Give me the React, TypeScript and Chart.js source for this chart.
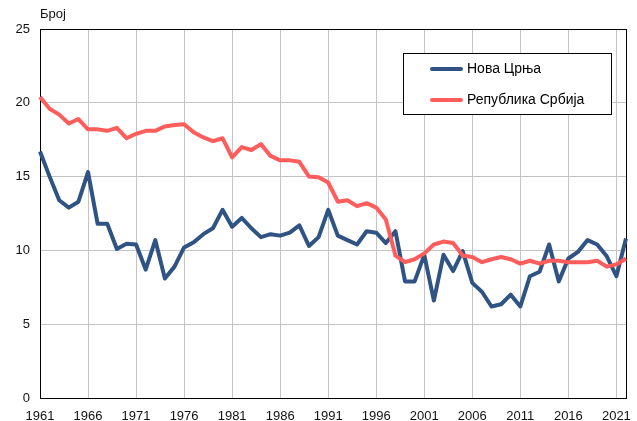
import React, { useEffect, useRef } from 'react';
import { Chart, registerables } from 'chart.js';

Chart.register(...registerables);

const years = [
  '1961','1962','1963','1964','1965','1966','1967','1968','1969','1970',
  '1971','1972','1973','1974','1975','1976','1977','1978','1979','1980',
  '1981','1982','1983','1984','1985','1986','1987','1988','1989','1990',
  '1991','1992','1993','1994','1995','1996','1997','1998','1999','2000',
  '2001','2002','2003','2004','2005','2006','2007','2008','2009','2010',
  '2011','2012','2013','2014','2015','2016','2017','2018','2019','2020',
  '2021','2022',
];

const novaCrnja = [
  16.7, 15.0, 13.4, 12.9, 13.3, 15.3, 11.8, 11.8, 10.1, 10.45,
  10.4, 8.7, 10.7, 8.1, 8.9, 10.2, 10.55, 11.1, 11.5, 12.75,
  11.6, 12.2, 11.5, 10.9, 11.1, 11.0, 11.2, 11.7, 10.3, 10.9,
  12.75, 11.0, 10.7, 10.4, 11.3, 11.2, 10.5, 11.3, 7.9, 7.9,
  9.7, 6.6, 9.7, 8.6, 9.95, 7.8, 7.2, 6.2, 6.35, 7.0,
  6.2, 8.25, 8.55, 10.4, 7.9, 9.45, 9.9, 10.7, 10.4, 9.6,
  8.25, 10.8,
];

const srbija = [
  20.4, 19.6, 19.2, 18.6, 18.9, 18.2, 18.2, 18.1, 18.3, 17.6,
  17.9, 18.1, 18.1, 18.4, 18.5, 18.55, 18.0, 17.65, 17.4, 17.6,
  16.3, 17.0, 16.8, 17.2, 16.4, 16.1, 16.1, 16.0, 15.0, 14.95,
  14.6, 13.3, 13.4, 13.0, 13.2, 12.9, 12.1, 9.65, 9.2, 9.4,
  9.8, 10.4, 10.6, 10.5, 9.66, 9.55, 9.2, 9.4, 9.55, 9.4,
  9.1, 9.3, 9.1, 9.3, 9.3, 9.2, 9.2, 9.2, 9.3, 8.9,
  9.05, 9.45,
];

const seriesNames = ['Нова Црња', 'Република Србија'];
const seriesColors = ['#2f5383', '#ff5c5c'];
const yAxisTitle = 'Број';
const yTicks = [0, 5, 10, 15, 20, 25];

const FONT = 'Arial, "Liberation Sans", sans-serif';

const framePlugin = {
  id: 'framePlugin',
  beforeDatasetsDraw(chart: any) {
    const { ctx, chartArea } = chart;
    ctx.save();
    ctx.strokeStyle = '#000';
    ctx.lineWidth = 1;
    ctx.strokeRect(
      Math.round(chartArea.left) + 0.5,
      Math.round(chartArea.top) + 0.5,
      Math.round(chartArea.right - chartArea.left),
      Math.round(chartArea.bottom - chartArea.top)
    );
    ctx.restore();
  },
  afterDraw(chart: any) {
    const { ctx } = chart;
    ctx.save();
    ctx.fillStyle = '#111';
    ctx.font = `13px ${FONT}`;
    ctx.textAlign = 'left';
    ctx.textBaseline = 'middle';
    ctx.fillText(yAxisTitle, 40, 14);

    const bx = 403.5, by = 53.5, bw = 208, bh = 61;
    ctx.fillStyle = '#fff';
    ctx.fillRect(bx, by, bw, bh);
    ctx.strokeStyle = '#000';
    ctx.lineWidth = 1;
    ctx.strokeRect(bx, by, bw, bh);
    chart.data.datasets.forEach((ds: any, i: number) => {
      const y = 69 + i * 31;
      ctx.strokeStyle = ds.borderColor;
      ctx.lineWidth = 4;
      ctx.lineCap = 'round';
      ctx.beginPath();
      ctx.moveTo(432, y);
      ctx.lineTo(461, y);
      ctx.stroke();
      ctx.fillStyle = '#000';
      ctx.font = `14px ${FONT}`;
      ctx.textAlign = 'left';
      ctx.textBaseline = 'middle';
      ctx.fillText(ds.label, 467, y);
    });
    ctx.restore();
  },
};

export default function App() {
  const canvasRef = useRef<HTMLCanvasElement | null>(null);

  useEffect(() => {
    if (!canvasRef.current) return;
    const chart = new Chart(canvasRef.current, {
      type: 'line',
      data: {
        labels: years,
        datasets: [
          {
            label: seriesNames[0],
            data: novaCrnja,
            borderColor: seriesColors[0],
            backgroundColor: seriesColors[0],
            borderWidth: 4,
            pointRadius: 0,
            tension: 0,
            borderJoinStyle: 'round',
            order: 2,
          },
          {
            label: seriesNames[1],
            data: srbija,
            borderColor: seriesColors[1],
            backgroundColor: seriesColors[1],
            borderWidth: 4,
            pointRadius: 0,
            tension: 0,
            borderJoinStyle: 'round',
            order: 1,
          },
        ],
      },
      options: {
        animation: false,
        responsive: false,
        maintainAspectRatio: false,
        layout: { padding: { top: 29, right: 6, left: 0, bottom: 0 } },
        plugins: {
          legend: { display: false },
          tooltip: { enabled: false },
          title: { display: false },
        },
        scales: {
          x: {
            type: 'category',
            offset: false,
            grid: {
              drawTicks: false,
              color: (c: any) => (c.index % 5 === 0 ? '#c4c4c4' : 'rgba(0,0,0,0)'),
              lineWidth: 1,
            },
            border: { display: false },
            ticks: {
              autoSkip: false,
              maxRotation: 0,
              minRotation: 0,
              padding: 11,
              color: '#111',
              font: { family: FONT, size: 13 },
              callback: (_v: any, i: number) => (i % 5 === 0 ? years[i] : ''),
            },
            afterFit: (s: any) => {
              s.height = 23;
            },
          },
          y: {
            min: 0,
            max: 25,
            afterBuildTicks: (s: any) => {
              s.ticks = yTicks.map((v) => ({ value: v }));
            },
            grid: { drawTicks: false, color: '#c4c4c4', lineWidth: 1 },
            border: { display: false },
            ticks: {
              padding: 10,
              color: '#111',
              font: { family: FONT, size: 13 },
            },
            afterFit: (s: any) => {
              s.width = 40;
            },
          },
        },
      },
      plugins: [framePlugin],
    } as any);
    return () => chart.destroy();
  }, []);

  return (
    <div style={{ position: 'fixed', left: 0, top: 0, width: 637, height: 421, background: '#fff' }}>
      <canvas ref={canvasRef} width={637} height={421} style={{ width: 637, height: 421, display: 'block' }} />
    </div>
  );
}
